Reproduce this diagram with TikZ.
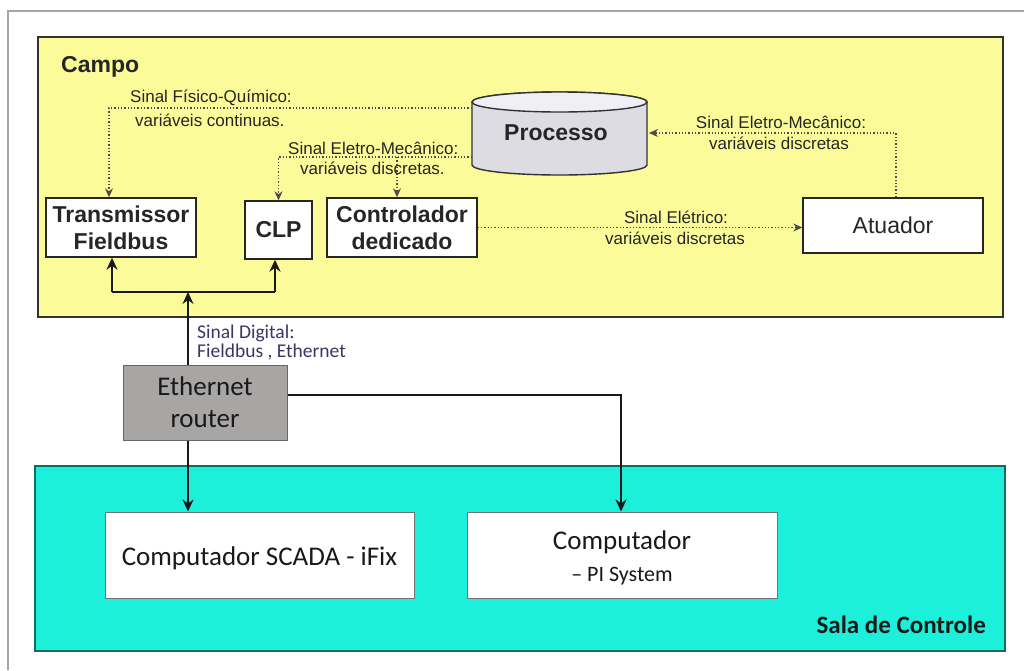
\documentclass[tikz,border=0pt]{standalone}
\usepackage{fontspec}
\setmainfont{Liberation Sans}
\newfontfamily\calibri{Carlito}
\usetikzlibrary{arrows.meta}
\definecolor{campoY}{RGB}{251,251,153}
\definecolor{salaC}{RGB}{28,240,218}
\definecolor{routerG}{RGB}{168,165,165}
\definecolor{cylF}{RGB}{220,220,226}
\definecolor{cylT}{RGB}{240,240,244}
\definecolor{dig}{RGB}{62,52,100}
\begin{document}
\begin{tikzpicture}[x=1pt,y=-1pt,
  box/.style={draw=black!85, line width=1.4pt, fill=white, inner sep=0pt},
  lab/.style={font=\bfseries\fontsize{23}{27}\selectfont, align=center, text=black!85},
  cal/.style={font=\calibri\fontsize{27}{32}\selectfont, align=center, text=black!90},
  sig/.style={font=\fontsize{17}{18}\selectfont, text=black!85, inner sep=0pt},
  digi/.style={font=\calibri\fontsize{19.5}{20}\selectfont, text=dig, inner sep=0pt, anchor=west},
  dot/.style={dotted, line width=1.3pt, draw=black!70, -{Stealth[length=9pt,width=8pt]}},
  sol/.style={line width=2.4pt, draw=black!90, -{Stealth[length=12pt,width=11pt]}},
  net/.style={line width=2.4pt, draw=black!90}]

\useasboundingbox (0,0) rectangle (1024,670);
\fill[white] (0,0) rectangle (1024,670);
\draw[gray!70, line width=1.3pt] (8,670) -- (8,11) -- (1024,11);

% areas
\draw[fill=campoY, line width=1.4pt, draw=black!80] (38,37) rectangle (1003,317);
\draw[fill=salaC, line width=1.2pt, draw=black!55!salaC] (35,466) rectangle (1005,651);

\node[font=\bfseries\fontsize{23}{25}\selectfont, text=black!85, anchor=west, inner sep=0pt] (campo) at (61,67) {Campo};
\node[font=\calibri\bfseries\fontsize{25}{28}\selectfont, text=black!90, anchor=east, inner sep=0pt] (sala) at (986,625) {Sala de Controle};

% cylinder
\fill[cylF] (472,102) -- (472,165) arc[start angle=180,end angle=360,x radius=87.5pt,y radius=10pt]
   -- (647,102) arc[start angle=0,end angle=180,x radius=87.5pt,y radius=10pt] -- cycle;
\draw[line width=1.4pt, draw=black!80] (472,102) -- (472,165) arc[start angle=180,end angle=360,x radius=87.5pt,y radius=10pt]
   -- (647,102) arc[start angle=0,end angle=180,x radius=87.5pt,y radius=10pt];
\draw[line width=1.4pt, draw=black!80, fill=cylT] (559.5,102) ellipse[x radius=87.5pt,y radius=10pt];
\node[lab] (proc) at (556,133) {Processo};

% field boxes
\node[box, lab, minimum width=150pt, minimum height=59pt] (tf) at (121,227.5) {Transmissor\\Fieldbus};
\node[box, lab, minimum width=67pt, minimum height=58pt] (clp) at (278.5,230) {CLP};
\node[box, lab, minimum width=150pt, minimum height=59pt] (ctl) at (402,227.5) {Controlador\\dedicado};
\node[box, font=\fontsize{23}{27}\selectfont, text=black!85, minimum width=180pt, minimum height=55pt] (at) at (893,225.5) {Atuador};

% router and computers
\node[draw=black!60, line width=1pt, fill=routerG, cal, inner sep=0pt, minimum width=164pt, minimum height=75pt] (rt) at (205,402.5) {Ethernet\\router};
\node[box, draw=black!55, line width=1pt, minimum width=309pt, minimum height=86pt] (sc) at (259.5,555) {};
\node[cal, inner sep=0pt] (scT) at (259.5,558) {Computador SCADA - iFix};
\node[box, draw=black!55, line width=1pt, minimum width=310pt, minimum height=86pt] (pi) at (622,555) {};
\node[cal, inner sep=0pt] (piT1) at (622,542) {Computador};
\node[font=\calibri\fontsize{22}{26}\selectfont, text=black!90, inner sep=0pt] (piT2) at (622,576) {– PI System};

% signal labels
\node[sig, anchor=west] (s1) at (130,98) {Sinal Físico-Químico:};
\node[sig, anchor=west] (s2) at (135,120) {variáveis continuas.};
\node[sig, anchor=west] (s3) at (288,148) {Sinal Eletro-Mecânico:};
\node[sig, anchor=west] (s4) at (300,168) {variáveis discretas.};
\node[sig] (s5) at (781,122) {Sinal Eletro-Mecânico:};
\node[sig] (s6) at (779,143) {variáveis discretas};
\node[sig] (s7) at (676,217) {Sinal Elétrico:};
\node[sig] (s8) at (675,238) {variáveis discretas};
\node[digi] (d1) at (197,333) {Sinal Digital:};
\node[digi] (d2) at (197,352) {Fieldbus , Ethernet};

% dotted signal connectors
\coordinate (pA) at (472,108);
\coordinate (x1) at (109,108);
\coordinate (pB) at (472,157);
\coordinate (x2) at (278.5,157);
\coordinate (x3) at (397,157);
\coordinate (x4) at (896,133);
\coordinate (pC) at (649,133);
\draw[dot] (pA) -- (x1) -- (x1 |- tf.north);
\draw[dot] (pB) -- (x2) -- (x2 |- clp.north);
\draw[dot] (x3) -- (x3 |- ctl.north);
\draw[dot] (ctl.east) -- (ctl.east -| at.west);
\draw[dot] (x4 |- at.north) -- (x4) -- (pC);

% solid network connectors
\coordinate (jn) at (188,292);
\coordinate (jL) at (112,292);
\coordinate (jR) at (275,292);
\coordinate (r1) at (621,395);
\draw[sol] (jn |- rt.north) -- (jn);
\draw[net] (jL) -- (jR);
\draw[sol] (jL) -- (jL |- tf.south);
\draw[sol] (jR) -- (jR |- clp.south);
\draw[sol] (jn |- rt.south) -- (jn |- sc.north);
\draw[sol] (rt.east |- r1) -- (r1) -- (r1 |- pi.north);
\end{tikzpicture}
\end{document}
